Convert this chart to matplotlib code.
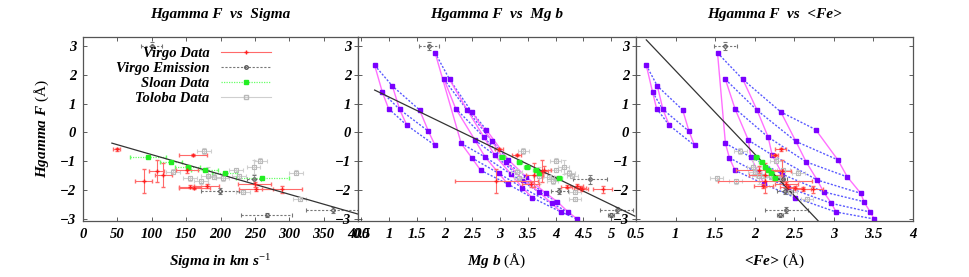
import matplotlib
matplotlib.use('Agg')
import matplotlib.pyplot as plt
from matplotlib.lines import Line2D

plt.rcParams['font.family'] = 'Liberation Serif'
plt.rcParams['mathtext.fontset'] = 'custom'
plt.rcParams['mathtext.rm'] = 'Liberation Serif'
plt.rcParams['mathtext.it'] = 'Liberation Serif:bold:italic'
plt.rcParams['mathtext.bf'] = 'Liberation Serif:bold'

# model grid (Hgamma F, Mg b, <Fe>)
model_hg = [2.33, 1.61, 1.39, 0.83, 0.80, 0.25, 0.78, 0.04, -0.45, 2.76, 1.84, 1.84, 0.83, 0.77, 0.71,
            0.10, -0.38, -0.27, -0.16, -0.31, -0.88, -0.85, -0.78, -1.02, -0.95, -1.31, -1.42, -1.45,
            -1.65, -1.54, -1.79, -1.91, -2.06, -2.11, -2.26, -2.46, -2.40, -2.76, -2.76, -3.00]
model_mgb = [0.74, 1.06, 0.88, 0.99, 1.19, 1.32, 1.55, 1.71, 1.83, 1.83, 1.99, 2.09, 2.20, 2.41, 2.49,
             2.75, 2.30, 2.55, 2.71, 2.86, 2.49, 2.73, 2.90, 3.10, 3.15, 2.65, 2.98, 3.20, 3.42, 3.47,
             3.14, 3.40, 3.70, 3.83, 3.58, 3.93, 4.03, 4.10, 4.23, 4.39]
model_fe = [0.63, 0.77, 0.71, 0.76, 0.84, 0.92, 1.09, 1.17, 1.24, 1.53, 1.63, 1.85, 1.75, 2.03, 2.33,
            2.77, 1.63, 1.92, 2.17, 2.52, 1.68, 1.95, 2.22, 2.65, 3.05, 1.75, 2.05, 2.35, 2.79, 3.17,
            2.12, 2.42, 2.87, 3.34, 2.51, 2.97, 3.38, 3.03, 3.46, 3.51]
# which model points are joined
pink_tracks = [[0, 2, 3], [1, 4, 5], [6, 7, 8], [9, 16, 20, 25], [10, 12, 17, 21, 26, 30],
               [11, 13, 18, 22, 27, 31, 34], [14, 19, 23, 28, 32, 35, 37], [15, 24, 29, 33, 36, 38, 39]]
blue_tracks = [[0, 1, 6], [2, 4, 7], [3, 5, 8], [9, 11, 14, 15], [10, 13, 19, 24], [12, 18, 23, 29],
               [17, 22, 28, 33], [16, 21, 27, 32, 36], [20, 26, 31, 35, 38], [25, 30, 34, 37, 39]]

# Virgo Data
virgo_hg = [-0.58, -1.68, -1.34, -1.47, -0.78, -1.30, -1.88, -1.91, -1.85, -1.80, -1.96, -1.97]
virgo_hg_err = [0.05, 0.43, 0.39, 0.42, 0.04, 0.12, 0.06, 0.06, 0.06, 0.08, 0.08, 0.12]
virgo_sigma = [49, 88, 107, 117, 160, 151, 155, 162, 180, 250, 252, 289]
virgo_sigma_err = [5, 12, 11, 13, 21, 16, 16, 22, 18, 24, 25, 29]
virgo_mgb = [2.98, 2.93, 3.75, 3.62, 3.30, 3.79, 4.20, 4.44, 4.38, 3.55, 4.48, 4.85]
virgo_mgb_err = [0.08, 0.75, 0.12, 0.15, 0.08, 0.12, 0.1, 0.1, 0.12, 0.15, 0.1, 0.17]
virgo_fe = [2.33, 2.13, 2.34, 2.13, 2.25, 2.06, 2.42, 2.51, 2.11, 2.40, 2.61, 2.74]
virgo_fe_err = [0.07, 0.59, 0.12, 0.2, 0.05, 0.3, 0.1, 0.1, 0.12, 0.15, 0.1, 0.12]

# Virgo Emission
emis_hg = [3.00, -2.03, -2.86, -2.69, -1.63]
emis_hg_err = [0.15, 0.1, 0.08, 0.1, 0.15]
emis_sigma = [100, 199, 267, 363, 249]
emis_sigma_err = [15, 28, 37, 39, 10]
emis_mgb = [1.72, 4.07, 5.00, 5.10, 4.62]
emis_mgb_err = [0.18, 0.15, 0.05, 0.3, 0.3]
emis_fe = [1.63, 2.38, 2.32, 2.40, 2.36]
emis_fe_err = [0.15, 0.1, 0.04, 0.27, 0.05]

# Sloan Data
sloan_hg = [-0.86, -1.03, -1.21, -1.30, -1.42, -1.57]
sloan_sigma = [95, 128, 152, 177, 206, 261]
sloan_sigma_err = [26, 16, 18, 20, 18, 39]
sloan_mgb = [3.04, 3.35, 3.49, 3.65, 3.71, 4.06]
sloan_mgb_err = [0.05, 0.05, 0.05, 0.05, 0.05, 0.05]
sloan_fe = [2.02, 2.09, 2.13, 2.17, 2.21, 2.25]
sloan_fe_err = [0.03, 0.03, 0.03, 0.03, 0.03, 0.03]

# Toloba Data
tol_hg = [-0.63, -0.98, -1.19, -1.30, -1.39, -1.36, -1.50, -1.53, -1.59, -1.59, -1.70, -1.51, -2.07, -2.31]
tol_hg_err = [0.1, 0.08, 0.25, 0.08, 0.08, 0.08, 0.3, 0.08, 0.08, 0.08, 0.1, 0.08, 0.08, 0.08]
tol_sigma = [176, 258, 248, 222, 310, 131, 182, 190, 203, 156, 172, 227, 233, 315]
tol_mgb = [3.42, 4.00, 4.15, 4.00, 4.25, 3.30, 3.70, 3.88, 4.00, 3.35, 3.95, 4.30, 4.35, 4.35]
tol_fe = [1.82, 2.27, 1.98, 2.36, 2.55, 2.00, 2.05, 2.20, 1.52, 2.30, 1.76, 2.10, 2.45, 2.66]

# fitted lines (end points)
fit_sigma = ([42, 400], [-0.37, -2.83])
fit_mgb = ([0.74, 5.43], [1.47, -2.90])
fit_fe = ([0.63, 2.80], [3.21, -3.06])

bi = dict(fontweight='bold', fontstyle='italic', family='Liberation Serif')

fig = plt.figure(figsize=(9.69, 2.77), dpi=100)
ax1 = fig.add_axes([83/969, 56/277, 275/969, 184/277])
ax2 = fig.add_axes([358/969, 56/277, 278/969, 184/277])
ax3 = fig.add_axes([636/969, 56/277, 277/969, 184/277])

panels = [
    (ax1, None, virgo_sigma, virgo_sigma_err, emis_sigma, emis_sigma_err, sloan_sigma, sloan_sigma_err,
     tol_sigma, 10, fit_sigma, 'Hgamma F  vs  Sigma', r'Sigma in km s$^{\mathit{-1}}$', (0, 400),
     [0, 50, 100, 150, 200, 250, 300, 350, 400]),
    (ax2, model_mgb, virgo_mgb, virgo_mgb_err, emis_mgb, emis_mgb_err, sloan_mgb, sloan_mgb_err,
     tol_mgb, 0.1, fit_mgb, 'Hgamma F  vs  Mg b', r'Mg b $\mathrm{(\AA)}$', (0.44, 5.45),
     [0.5, 1, 1.5, 2, 2.5, 3, 3.5, 4, 4.5, 5]),
    (ax3, model_fe, virgo_fe, virgo_fe_err, emis_fe, emis_fe_err, sloan_fe, sloan_fe_err,
     tol_fe, 0.08, fit_fe, 'Hgamma F  vs  <Fe>', r'<Fe> $\mathrm{(\AA)}$', (0.5, 4.0),
     [0.5, 1, 1.5, 2, 2.5, 3, 3.5, 4]),
]

for (ax, mx, vx, vxe, ex, exe, sx, sxe, tx, txe, fit, title, xlabel, xlim, xticks) in panels:
    if mx is not None:
        # model grid: blue dotted and pink solid tracks, purple nodes
        for tr in blue_tracks:
            ax.plot([mx[i] for i in tr], [model_hg[i] for i in tr], color='#5a5aff', lw=1.0,
                    ls=(0, (1.5, 1.2)))
        for tr in pink_tracks:
            ax.plot([mx[i] for i in tr], [model_hg[i] for i in tr], color='#ff70ff', lw=1.0)
        ax.plot(mx, model_hg, 's', color='#7a00ff', ms=2.8, ls='none')

    ax.errorbar(tx, tol_hg, xerr=txe, yerr=tol_hg_err, fmt='s', ms=3.5, mfc='none', mec='#b8b8b8',
                ecolor='#cfcfcf', elinewidth=0.8, capsize=1.5, mew=0.8)
    eb = ax.errorbar(ex, emis_hg, xerr=exe, yerr=emis_hg_err, fmt='o', ms=2.5, mfc='none', mec='#555555',
                     ecolor='#777777', elinewidth=0.8, capsize=1.5, mew=0.8)
    for lc in eb[2]:
        lc.set_linestyle((0, (2, 1.5)))
    eb = ax.errorbar(sx, sloan_hg, xerr=sxe, fmt='s', ms=2.5, color='#22ee22', ecolor='#66ff66',
                     elinewidth=0.9, capsize=1.5)
    for lc in eb[2]:
        lc.set_linestyle((0, (1, 1)))
    ax.errorbar(vx, virgo_hg, xerr=vxe, yerr=virgo_hg_err, fmt='+', ms=3, color='#ff2020',
                ecolor='#ff6a6a', elinewidth=0.8, capsize=1.5)

    ax.plot(fit[0], fit[1], '-', color='#333333', lw=0.9)

    ax.set_xlim(*xlim)
    ax.set_ylim(-3.07, 3.31)
    ax.set_xticks(xticks)
    ax.set_xticklabels([('%g' % t) for t in xticks], fontsize=10.5, **bi)
    ax.set_yticks([-3, -2, -1, 0, 1, 2, 3])
    ax.set_yticklabels(['−3', '−2', '−1', '0', '1', '2', '3'], fontsize=10.5, **bi)
    ax.tick_params(direction='in', top=True, right=True, length=3, width=0.6, color='#444444', pad=5)
    for s in ax.spines.values():
        s.set_color('#555555')
        s.set_linewidth(0.9)
    ax.set_title(title, fontsize=11, pad=14, **bi)
    ax.set_xlabel(xlabel, fontsize=11, labelpad=8, **bi)

ax1.set_ylabel(r'Hgamma F $\mathrm{(\AA)}$', fontsize=11, labelpad=6, **bi)

handles = [
    Line2D([], [], color='#ff6a6a', marker='+', mec='#ff2020', ms=3, lw=0.8),
    Line2D([], [], color='#777777', marker='o', mfc='none', mec='#555555', ms=2.5, lw=0.8, ls=(0, (2, 1.5))),
    Line2D([], [], color='#66ff66', marker='s', mfc='#22ee22', mec='#22ee22', ms=2.5, lw=0.9, ls=(0, (1, 1))),
    Line2D([], [], color='#cfcfcf', marker='s', mfc='none', mec='#b8b8b8', ms=3.5, lw=0.8),
]
leg = ax1.legend(handles, ['Virgo Data', 'Virgo Emission', 'Sloan Data', 'Toloba Data'],
                 loc='upper right', bbox_to_anchor=(0.72, 1.0), frameon=False, markerfirst=False,
                 handlelength=3.4, handletextpad=0.8, labelspacing=0.12, borderpad=0.2,
                 prop=dict(size=10.5, weight='bold', style='italic', family='Liberation Serif'))

fig.savefig('out.png', dpi=100)
